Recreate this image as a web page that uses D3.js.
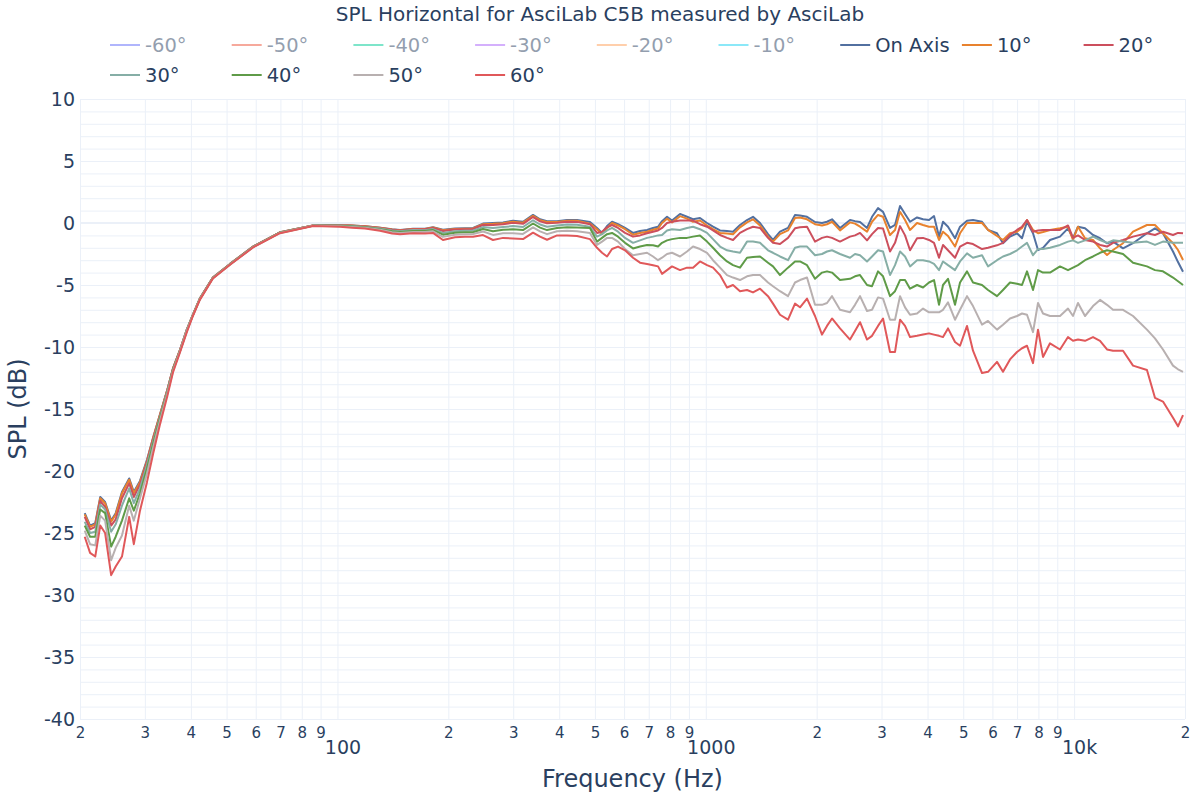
<!DOCTYPE html>
<html><head><meta charset="utf-8">
<script src="https://cdn.jsdelivr.net/npm/d3@7"></script>
<style>
body{margin:0;background:#fff;}
svg text{font-family:"DejaVu Sans","Open Sans",sans-serif;fill:#2a3f5f;}
</style>
</head><body>
<svg id="chart" width="1200" height="800"></svg>
<script>
const chartTitle = "SPL Horizontal for AsciLab C5B measured by AsciLab";
const xTitle = "Frequency (Hz)";
const yTitle = "SPL (dB)";

const categories = ["-60°","-50°","-40°","-30°","-20°","-10°","On Axis","10°","20°","30°","40°","50°","60°"];
const seriesColors = ["#636efa","#EF553B","#00cc96","#ab63fa","#FFA15A","#19d3f3","#5270a0","#e8822e","#cc4f5d","#86aea6","#5f9b48","#b8b0b0","#e0585a"];
const legendOnly = [true,true,true,true,true,true,false,false,false,false,false,false,false];

const yTicks = [10,5,0,-5,-10,-15,-20,-25,-30,-35,-40];
const xDigitTicks = [20,30,40,50,60,70,80,90,200,300,400,500,600,700,800,900,2000,3000,4000,5000,6000,7000,8000,9000,20000];
const xMajorTicks = [100,1000,10000];
const xMajorLabels = ["100","1000","10k"];

const freqs = [
 20.6,21.3,22.0,22.7,23.4,24.3,25.0,26.0,27.2,28.0,29.1,30.4,31.6,33.0,34.5,35.8,37.4,39.0,40.5,42.3,45.9,51.1,59.0,69.8,85.8,
 101.6,109.5,118.8,130.5,140.7,147.9,160.4,172.9,181.7,193.4,208.5,222.0,233.4,248.4,264.4,281.5,299.7,319.0,339.6,354.8,370.7,394.6,420.1,447.2,
 484.8,506.6,522.8,539.4,556.5,577.8,603.6,634.5,662.9,692.6,
 719.1,741.9,760.7,784.8,809.7,851.2,889.3,923.3,964.4,1007.7,
 1046.2,1093.0,1141.8,1185.5,1238.5,1293.9,1343.4,1403.5,1475.5,1522.3,
 1590.4,1672.0,1746.8,1802.2,1882.8,1979.4,2068.0,2133.6,2201.4,2314.4,
 2463.6,2541.8,2622.6,2740.0,2827.0,2935.2,3028.4,3163.8,3264.2,3368.0,
 3475.0,3585.4,3745.8,3889.0,4036.8,4165.0,4297.4,4406.0,4545.8,4749.4,
 4900.4,5119.6,5315.0,5622.8,5837.6,6175.2,6411.0,6698.0,6997.6,7219.8,
 7449.0,7733.6,7979.0,8232.6,8600.8,9155.2,9624.8,9930.6,10246,10705,
 11254,11758,12283,12753,13576,14452,15767,16577,17428,18555,
 19145,19753
];

const onAxis = [
 -23.4,-24.4,-24.2,-22.1,-22.5,-24.0,-23.4,-21.7,-20.6,-21.7,-20.8,-19.1,-17.3,-15.4,-13.5,-11.7,-10.2,-8.6,-7.4,-6.1,-4.4,-3.3,-1.9,-0.75,-0.2,
 -0.16,-0.2,-0.26,-0.38,-0.5,-0.56,-0.46,-0.46,-0.35,-0.55,-0.45,-0.43,-0.4,-0.05,0.0,0.05,0.18,0.1,0.65,0.3,0.15,0.15,0.25,0.25,
 0.08,-0.4,-0.8,-0.25,0.1,-0.1,-0.4,-0.8,-0.65,-0.56,
 -0.4,-0.3,0.15,0.5,0.2,0.73,0.5,0.3,0.4,0.0,
 -0.3,-0.6,-0.65,-0.7,-0.16,0.24,0.5,0.0,-0.9,-1.37,
 -0.7,-0.4,0.65,0.6,0.5,0.08,0.0,0.1,0.3,-0.4,
 0.24,0.15,0.08,-0.4,0.5,1.2,0.9,-0.4,-0.16,1.37,
 0.73,0.1,0.45,0.3,0.24,0.56,-1.1,0.1,-0.3,-1.23,
 -0.3,0.18,0.24,0.1,-0.56,-0.83,-1.63,-1.1,-0.83,-1.23,
 0.1,-0.83,-2.18,-2.0,-1.37,-1.1,-0.43,-1.23,-0.3,-0.43,
 -0.97,-1.23,-1.63,-1.5,-2.04,-1.63,-0.83,-0.43,-0.83,-2.3,
 -3.15,-3.93
];

const deg10 = [
 -23.5,-24.5,-24.3,-22.2,-22.6,-24.1,-23.5,-21.8,-20.7,-21.8,-20.9,-19.2,-17.3,-15.4,-13.5,-11.7,-10.2,-8.6,-7.4,-6.1,-4.4,-3.3,-1.9,-0.75,-0.2,
 -0.17,-0.21,-0.27,-0.39,-0.52,-0.58,-0.48,-0.48,-0.37,-0.59,-0.49,-0.46,-0.44,-0.1,-0.07,-0.01,0.11,0.03,0.58,0.23,0.08,0.09,0.19,0.19,
 -0.05,-0.5,-0.9,-0.4,0.0,-0.2,-0.5,-0.95,-0.8,-0.7,
 -0.55,-0.45,0.0,0.35,0.05,0.55,0.35,0.1,0.2,-0.2,
 -0.5,-0.8,-0.85,-0.9,-0.35,0.05,0.3,-0.2,-1.1,-1.5,
 -0.9,-0.6,0.4,0.45,0.3,-0.1,-0.2,-0.1,0.1,-0.6,
 0.05,-0.05,-0.3,-0.7,0.1,0.65,0.5,-0.97,-0.56,0.9,
 0.24,-0.56,0.0,-0.16,-0.3,-0.3,-1.37,-0.7,-1.05,-1.9,
 -0.83,0.0,0.0,0.0,-0.56,-1.05,-1.37,-0.83,-0.7,-0.4,
 0.24,-0.56,-0.83,-0.73,-0.56,-0.43,-0.3,-1.37,-0.3,-1.23,
 -1.37,-2.04,-2.58,-2.18,-1.63,-0.7,-0.16,-0.16,-0.83,-1.63,
 -2.18,-2.98
];

const deg20 = [
 -23.7,-24.7,-24.5,-22.4,-22.9,-24.4,-23.9,-22.2,-21.0,-22.1,-21.1,-19.3,-17.4,-15.5,-13.5,-11.7,-10.2,-8.6,-7.4,-6.1,-4.4,-3.3,-1.9,-0.76,-0.2,
 -0.18,-0.22,-0.28,-0.41,-0.54,-0.6,-0.5,-0.51,-0.4,-0.65,-0.53,-0.51,-0.48,-0.16,-0.16,-0.1,0.01,-0.07,0.48,0.13,-0.03,0.01,0.1,0.09,
 -0.1,-0.8,-0.7,-0.35,-0.16,-0.4,-0.8,-1.1,-1.0,-0.83,
 -0.7,-0.6,-0.4,0.0,0.1,0.2,0.2,0.2,-0.1,-0.3,
 -0.6,-0.97,-1.2,-1.37,-0.8,-0.5,-0.3,-0.4,-1.2,-1.6,
 -1.7,-1.2,-0.43,-0.35,-0.3,-1.5,-1.2,-1.1,-1.2,-1.5,
 -1.1,-1.0,-0.8,-1.4,-0.9,-0.4,-0.45,-2.3,-1.6,-0.25,
 -1.0,-2.2,-1.23,-1.2,-1.37,-1.6,-2.8,-1.77,-2.2,-2.8,
 -1.9,-1.6,-1.7,-2.1,-2.0,-1.8,-1.6,-0.97,-0.56,-0.3,
 0.24,-0.7,-0.6,-0.56,-0.56,-0.56,-0.2,-1.2,-1.0,-1.37,
 -1.5,-1.77,-1.9,-1.6,-1.37,-1.1,-0.83,-0.97,-0.7,-0.97,
 -0.8,-0.83
];

const deg30 = [
 -24.1,-25.0,-24.9,-22.7,-23.1,-24.9,-24.3,-22.8,-21.4,-22.6,-21.4,-19.5,-17.6,-15.6,-13.6,-11.8,-10.3,-8.6,-7.42,-6.12,-4.42,-3.32,-1.92,-0.77,-0.21,
 -0.2,-0.25,-0.32,-0.45,-0.6,-0.66,-0.57,-0.58,-0.49,-0.8,-0.66,-0.63,-0.61,-0.33,-0.41,-0.33,-0.25,-0.32,0.22,-0.12,-0.3,-0.2,-0.13,-0.14,
 -0.3,-1.1,-0.9,-0.6,-0.4,-0.7,-1.2,-1.6,-1.4,-1.2,
 -1.1,-1.0,-0.97,-0.6,-0.5,-0.56,-0.4,-0.3,-0.5,-0.8,
 -1.3,-1.9,-2.2,-2.3,-2.4,-1.5,-1.5,-1.6,-2.2,-2.4,
 -2.7,-3.0,-2.0,-1.9,-1.9,-2.6,-2.5,-2.3,-2.2,-2.5,
 -2.8,-2.5,-2.6,-3.1,-2.7,-2.2,-2.3,-4.2,-3.4,-2.3,
 -2.7,-3.5,-3.0,-3.0,-3.1,-3.3,-3.8,-3.1,-3.4,-3.8,
 -3.1,-2.45,-2.8,-2.6,-3.5,-3.0,-2.7,-2.5,-2.2,-1.9,
 -1.6,-2.6,-2.1,-2.1,-2.0,-1.77,-1.5,-1.4,-1.6,-1.4,
 -1.1,-1.37,-1.6,-1.4,-1.5,-1.6,-1.5,-1.77,-1.5,-1.6,
 -1.6,-1.6
];

const deg40 = [
 -24.4,-25.3,-25.3,-23.1,-23.4,-26.1,-25.3,-24.0,-22.2,-23.2,-21.8,-19.8,-17.8,-15.7,-13.7,-11.8,-10.3,-8.7,-7.43,-6.13,-4.43,-3.33,-1.93,-0.78,-0.22,
 -0.23,-0.29,-0.35,-0.5,-0.67,-0.72,-0.64,-0.65,-0.57,-0.94,-0.79,-0.75,-0.74,-0.49,-0.66,-0.55,-0.51,-0.57,-0.04,-0.37,-0.57,-0.4,-0.35,-0.37,
 -0.4,-1.5,-1.2,-0.9,-0.8,-1.1,-1.6,-2.05,-1.9,-1.77,
 -1.8,-1.9,-1.6,-1.4,-1.3,-1.2,-1.2,-1.1,-1.0,-1.5,
 -2.0,-2.6,-3.1,-3.4,-3.6,-2.8,-2.75,-2.7,-3.2,-3.5,
 -4.2,-3.6,-3.1,-3.1,-3.4,-4.5,-4.0,-3.9,-4.0,-4.6,
 -4.5,-4.3,-4.2,-5.0,-5.1,-3.9,-4.3,-5.9,-5.5,-4.6,
 -4.6,-5.3,-5.0,-5.2,-4.8,-4.6,-6.6,-5.0,-4.5,-6.6,
 -4.8,-3.9,-4.8,-5.0,-5.4,-5.9,-5.4,-4.8,-4.9,-5.0,
 -3.9,-5.4,-3.8,-4.0,-4.0,-3.5,-3.8,-3.6,-3.4,-3.0,
 -2.7,-2.4,-2.2,-2.3,-2.5,-3.2,-3.5,-3.8,-3.9,-4.4,
 -4.7,-5.0
];

const deg50 = [
 -24.8,-25.9,-26.0,-23.6,-24.0,-27.2,-26.2,-25.2,-22.8,-24.0,-22.2,-20.2,-18.1,-15.9,-13.8,-11.9,-10.3,-8.7,-7.45,-6.15,-4.45,-3.35,-1.95,-0.8,-0.23,
 -0.26,-0.33,-0.39,-0.55,-0.75,-0.8,-0.72,-0.73,-0.67,-1.12,-0.94,-0.9,-0.89,-0.69,-0.96,-0.83,-0.82,-0.88,-0.35,-0.68,-0.9,-0.66,-0.63,-0.66,
 -0.8,-1.77,-1.5,-1.2,-1.2,-1.5,-2.1,-2.6,-2.5,-2.4,
 -2.7,-3.0,-2.8,-2.5,-2.4,-2.7,-2.3,-1.9,-2.1,-2.4,
 -3.0,-3.6,-4.2,-4.4,-4.6,-4.3,-4.2,-4.2,-4.8,-5.1,
 -5.5,-5.9,-4.8,-4.6,-4.4,-6.6,-6.6,-6.45,-5.9,-7.0,
 -7.2,-6.6,-5.9,-7.1,-7.0,-6.0,-6.1,-7.8,-7.8,-5.9,
 -6.8,-7.4,-7.3,-6.9,-7.2,-7.2,-7.2,-7.0,-6.4,-7.8,
 -7.0,-5.9,-6.7,-8.2,-7.9,-8.6,-8.2,-7.7,-7.5,-7.3,
 -7.4,-8.8,-6.45,-7.3,-7.5,-7.5,-6.9,-7.5,-6.45,-7.5,
 -6.7,-6.2,-6.6,-7.0,-7.0,-7.5,-8.6,-9.3,-10.2,-11.5,
 -11.8,-12.0
];

const deg60 = [
 -25.3,-26.6,-26.9,-24.4,-25.0,-28.4,-27.7,-26.9,-23.7,-25.9,-23.2,-20.9,-18.6,-16.2,-14.0,-12.0,-10.4,-8.8,-7.5,-6.2,-4.47,-3.37,-1.97,-0.82,-0.25,
 -0.3,-0.38,-0.45,-0.62,-0.85,-0.9,-0.83,-0.85,-0.8,-1.37,-1.15,-1.1,-1.1,-0.97,-1.37,-1.2,-1.25,-1.3,-0.78,-1.1,-1.35,-1.0,-1.0,-1.05,
 -1.3,-2.0,-2.4,-2.7,-2.1,-1.9,-2.2,-2.8,-3.2,-3.3,
 -3.4,-3.5,-4.1,-3.8,-3.5,-3.8,-3.6,-3.6,-3.1,-3.4,
 -3.6,-4.2,-5.2,-5.0,-5.5,-5.4,-5.6,-5.3,-5.9,-6.5,
 -7.4,-7.8,-6.5,-6.8,-6.1,-7.5,-9.0,-8.3,-7.7,-8.5,
 -9.4,-8.7,-8.0,-9.4,-9.1,-8.3,-7.7,-10.4,-10.4,-7.8,
 -8.3,-9.2,-9.1,-9.0,-8.9,-9.0,-9.1,-9.2,-8.5,-9.6,
 -9.9,-8.3,-10.3,-12.1,-12.0,-11.2,-12.0,-11.0,-10.4,-10.1,
 -9.9,-11.3,-8.6,-10.8,-9.7,-10.2,-9.2,-9.5,-9.4,-9.5,
 -9.2,-9.5,-10.2,-10.3,-10.3,-11.5,-11.85,-14.1,-14.4,-15.7,
 -16.4,-15.5
];

const visibleValues = {"On Axis": onAxis, "10°": deg10, "20°": deg20, "30°": deg30, "40°": deg40, "50°": deg50, "60°": deg60};

const svg = d3.select("#chart");
const plot = {left: 80, right: 1185, top: 99, bottom: 719};
const x = d3.scaleLog().domain([20, 20000]).range([plot.left, plot.right]);
const y = d3.scaleLinear().domain([-40, 10]).range([plot.bottom, plot.top]);
const gridColor = "#EBF0F8";

// horizontal grid every 1 dB
const yMinor = d3.range(-40, 11, 1);
const gy = svg.append("g").attr("transform", `translate(${plot.left},0)`)
  .call(d3.axisLeft(y).tickValues(yMinor).tickSize(-(plot.right - plot.left)).tickFormat(""));
gy.select(".domain").remove();
gy.selectAll("line").attr("stroke", gridColor).attr("stroke-width", 1);

// vertical grid
const xGridVals = xDigitTicks.concat(xMajorTicks);
const gx = svg.append("g").attr("transform", `translate(0,${plot.bottom})`)
  .call(d3.axisBottom(x).tickValues(xGridVals).tickSize(-(plot.bottom - plot.top)).tickFormat(""));
gx.select(".domain").remove();
gx.selectAll("line").attr("stroke", gridColor).attr("stroke-width", 1);

// zero line
svg.append("line").attr("x1", plot.left).attr("x2", plot.right)
  .attr("y1", y(0)).attr("y2", y(0)).attr("stroke", gridColor).attr("stroke-width", 2);

// y tick labels
const yl = svg.append("g").attr("transform", `translate(${plot.left},0)`)
  .call(d3.axisLeft(y).tickValues(yTicks).tickSize(0).tickPadding(5).tickFormat(d => String(d)));
yl.select(".domain").remove();
yl.selectAll("text").style("font-size", "19px").attr("fill", "#2a3f5f");

// x digit labels
const xl = svg.append("g").attr("transform", `translate(0,${plot.bottom})`)
  .call(d3.axisBottom(x).tickValues(xDigitTicks).tickSize(0).tickPadding(8)
    .tickFormat(d => String(d).charAt(0)));
xl.select(".domain").remove();
xl.selectAll("text").style("font-size", "15px").attr("fill", "#2a3f5f");

// x major labels
const xm = svg.append("g").attr("transform", `translate(5,${plot.bottom})`)
  .call(d3.axisBottom(x).tickValues(xMajorTicks).tickSize(0).tickPadding(22)
    .tickFormat((d, i) => xMajorLabels[i]));
xm.select(".domain").remove();
xm.selectAll("text").style("font-size", "19px").attr("fill", "#2a3f5f");

// lines
const line = d3.line()
  .defined(d => d[1] != null && !isNaN(d[1]))
  .x(d => x(d[0])).y(d => y(d[1]));

svg.append("clipPath").attr("id", "clip").append("rect")
  .attr("x", plot.left).attr("y", plot.top).attr("width", plot.right - plot.left).attr("height", plot.bottom - plot.top);

const gLines = svg.append("g").attr("clip-path", "url(#clip)");
categories.forEach((name, i) => {
  if (legendOnly[i]) return;
  const vals = visibleValues[name];
  const pts = freqs.map((f, k) => [f, vals[k]]);
  gLines.append("path").datum(pts)
    .attr("fill", "none").attr("stroke", seriesColors[i]).attr("stroke-width", 2)
    .attr("stroke-linejoin", "round").attr("d", line);
});

// title
svg.append("text").attr("x", 600).attr("y", 21).attr("text-anchor", "middle")
  .style("font-size", "20px").text(chartTitle);

// axis titles
svg.append("text").attr("x", (plot.left + plot.right) / 2).attr("y", 787).attr("text-anchor", "middle")
  .style("font-size", "24px").text(xTitle);
svg.append("text").attr("transform", `translate(26,${(plot.top + plot.bottom) / 2}) rotate(-90)`)
  .attr("text-anchor", "middle").style("font-size", "24px").text(yTitle);

// legend
const perRow = 9;
const legend = svg.append("g");
categories.forEach((name, i) => {
  const col = i % perRow, row = Math.floor(i / perRow);
  const lx = 110 + col * 121.7, ly = 45 + row * 30;
  const g = legend.append("g").attr("opacity", legendOnly[i] ? 0.5 : 1);
  g.append("line").attr("x1", lx).attr("x2", lx + 30).attr("y1", ly).attr("y2", ly)
    .attr("stroke", seriesColors[i]).attr("stroke-width", 2);
  g.append("text").attr("x", lx + 35).attr("y", ly).attr("dy", "0.36em")
    .style("font-size", "19.5px").text(name);
});
</script>
</body></html>
